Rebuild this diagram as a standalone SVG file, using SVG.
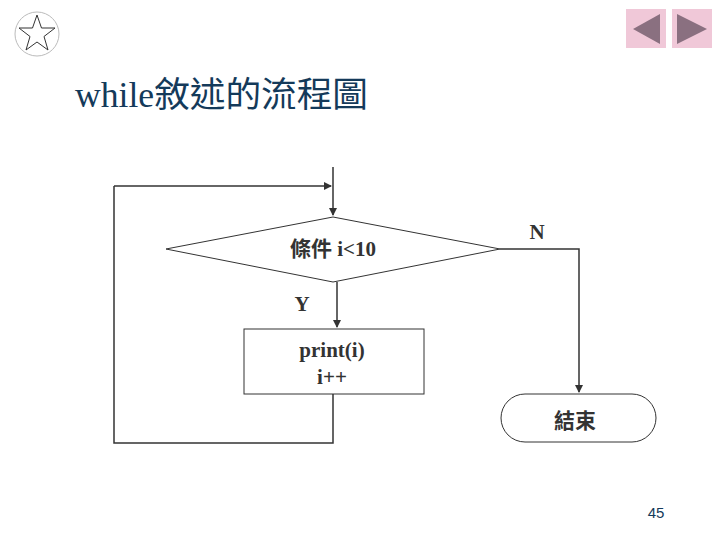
<svg xmlns="http://www.w3.org/2000/svg" width="720" height="540" viewBox="0 0 720 540">
<style>
.ln{stroke:#333;stroke-width:1.5;fill:none}
.sh{stroke:#333;stroke-width:1;fill:#fff}
.t{font-family:"Liberation Serif","Noto Sans CJK TC",serif;font-weight:bold;fill:#333;font-size:21px;text-anchor:middle}
</style>
<defs><marker id="a" markerWidth="8" markerHeight="8" refX="7" refY="4" orient="auto" markerUnits="userSpaceOnUse"><path d="M0,0L8,4L0,8z" fill="#333"/></marker></defs>
<rect width="720" height="540" fill="#fff"/>
<g id="icon"><circle cx="37" cy="34" r="22" fill="none" stroke="#bbb"/>
<polygon points="37,15 41.5,28 55,28 44,36.5 48,50 37,42 26,50 30,36.5 19,28 32.5,28" fill="none" stroke="#333"/></g>
<g id="nav"><rect x="626" y="9" width="40" height="39" fill="#f0c8d8"/><polygon points="660,14 660,44 633,29" fill="#8a7080"/>
<rect x="672" y="9" width="40" height="39" fill="#f0c8d8"/><polygon points="677,14 677,44 707,29" fill="#8a7080"/></g>
<text x="75" y="107" font-family="Liberation Serif,'Noto Sans CJK TC',serif" font-size="35" fill="#143a5a" textLength="293" lengthAdjust="spacingAndGlyphs">while敘述的流程圖</text>
<g id="connectors">
<path class="ln" d="M333,167V215" marker-end="url(#a)"/>
<path class="ln" d="M114,186H331" marker-end="url(#a)"/>
<path class="ln" d="M337,282V327" marker-end="url(#a)"/>
<path class="ln" d="M333,394V443H114V186"/>
<path class="ln" d="M500,249H579V392" marker-end="url(#a)"/>
</g>
<g id="cond"><polygon class="sh" points="333,217 500,249 333,282 166,249"/><text class="t" x="333" y="256">條件 i&lt;10</text></g>
<g id="body"><rect class="sh" x="244" y="329" width="180" height="65"/><text class="t" x="332" y="357">print(i)</text><text class="t" x="332" y="384">i++</text></g>
<g id="end"><rect class="sh" x="501" y="394" width="155" height="48" rx="24"/><text class="t" x="575" y="428">結束</text></g>
<text class="t" x="537" y="239">N</text>
<text class="t" x="302" y="311">Y</text>
<text x="656" y="518" font-family="Liberation Sans,sans-serif" font-size="15" fill="#143a5a" text-anchor="middle">45</text>
</svg>
